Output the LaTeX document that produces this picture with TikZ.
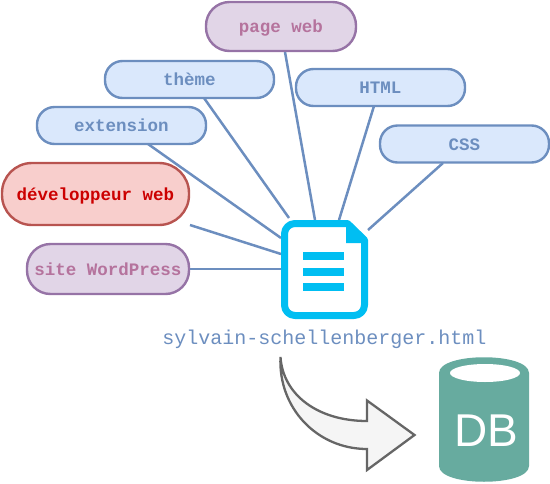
\documentclass[tikz,border=0pt]{standalone}
\usepackage{fontspec}
\setmainfont{Liberation Sans}
\setmonofont{Liberation Mono}
\usepackage{xcolor}
\definecolor{bluedraw}{HTML}{6C8EBF}
\definecolor{bluefill}{HTML}{DAE8FC}
\definecolor{reddraw}{HTML}{B85450}
\definecolor{redfill}{HTML}{F8CECC}
\definecolor{redtext}{HTML}{CC0000}
\definecolor{purpledraw}{HTML}{9673A6}
\definecolor{purplefill}{HTML}{E1D5E7}
\definecolor{purpletext}{HTML}{B5739D}
\definecolor{filecolor}{HTML}{00BEF2}
\definecolor{dbcolor}{HTML}{67AB9F}
\tikzset{
	pill/.style = {draw, line width = 2.4pt, inner sep = 0pt, font = \ttfamily\bfseries\fontsize{17.5}{20}\selectfont, text height = 14pt, text depth = 2pt},
	bluepill/.style = {pill, draw = bluedraw, fill = bluefill, text = bluedraw, minimum width = 169pt, minimum height = 37pt, rounded corners = 17.5pt},
	purplepill/.style = {pill, draw = purpledraw, fill = purplefill, text = purpletext, rounded corners = 23.5pt},
	link/.style = {draw = bluedraw, line width = 2.5pt},
}
\begin{document}
\begin{tikzpicture}[x = 1pt, y = -1pt]
		\useasboundingbox (0,0) rectangle (550,483);
		\node[purplepill, minimum width = 150pt, minimum height = 49pt] (pageweb) at (281,26.5) {page web};
		\node[bluepill] (theme) at (189.5,79.5) {thème};
		\node[bluepill] (html) at (380.5,87.5) {HTML};
		\node[bluepill] (extension) at (121.5,125.5) {extension};
		\node[bluepill] (css) at (464.5,144) {CSS};
		\node[pill, draw = reddraw, fill = redfill, text = redtext, minimum width = 187pt, minimum height = 62pt, rounded corners = 30pt] (dev) at (95.5,194) {développeur web};
		\node[purplepill, minimum width = 162pt, minimum height = 50pt] (site) at (108,269) {site WordPress};
		\node[text = bluedraw, font = \ttfamily\fontsize{20}{24}\selectfont] (filename) at (324.5,339) {sylvain-schellenberger.html};
		\coordinate (inpage) at (315,220);
		\coordinate (intheme) at (289,218);
		\coordinate (inext) at (281,238);
		\coordinate (inhtml) at (339,220);
		\coordinate (incss) at (368,230);
		\coordinate (indev) at (281,254);
		\coordinate (insite) at (281,269);
		\draw[link] (285,52) -- (inpage);
		\draw[link] (204,98) -- (intheme);
		\draw[link] (148,144) -- (inext);
		\draw[link] (374,106) -- (inhtml);
		\draw[link] (443,163) -- (incss);
		\draw[link] (190,225) -- (indev);
		\draw[link] (site) -- (insite);
		\draw[filecolor, line width = 7pt, line join = round, fill = white] (295,223.5) -- (347.5,223.5) -- (364.5,240) -- (364.5,305) arc (0:90:10.5) -- (295,315.5) arc (90:180:10.5) -- (284.5,234) arc (180:270:10.5) -- cycle;
		\fill[filecolor] (346,222) -- (346,243) -- (366,243) -- cycle;
		\foreach \ybar in {252,267.5,283}
			\fill[filecolor] (303,\ybar) rectangle (344,\ybar+8);
		\draw[draw = black!60, fill = black!4, line width = 2.3pt, line join = miter] (280.5,357) .. controls (283,395) and (318,421) .. (367,421) -- (367,400.5) -- (414.5,435) -- (367,470) -- (367,449) .. controls (317,449) and (278,408) .. cycle;
		\fill[dbcolor] (439,373) .. controls (439,352) and (529,352) .. (529,373) -- (529,466) .. controls (529,487) and (439,487) .. (439,466) -- cycle;
		\fill[white] (485,373) ellipse (35 and 9);
		\node[text = white, font = \fontsize{46}{50}\selectfont, inner sep = 0pt] (db) at (486,431) {DB};
\end{tikzpicture}
\end{document}
